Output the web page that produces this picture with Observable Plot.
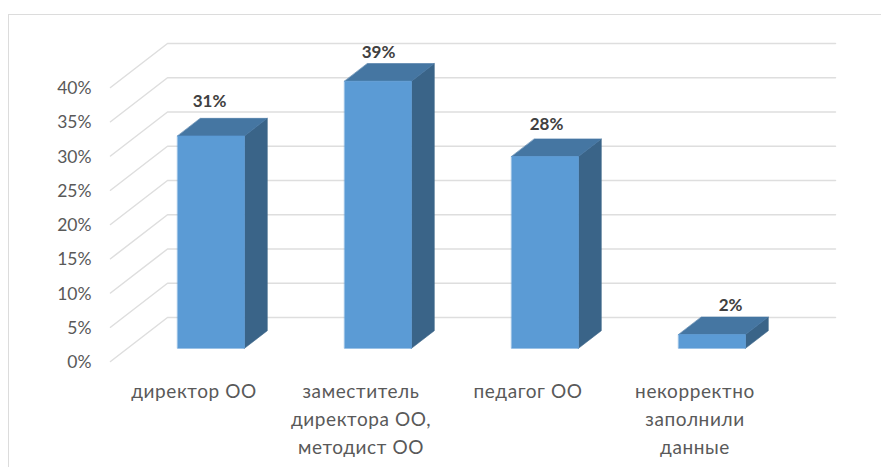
<!DOCTYPE html>
<html lang="ru">
<head>
<meta charset="utf-8">
<script src="https://cdn.jsdelivr.net/npm/d3@7"></script>
<script src="https://cdn.jsdelivr.net/npm/@observablehq/plot@0.6"></script>
<style>
html,body{margin:0;padding:0;background:#fff;overflow:hidden}
#chart{position:relative;width:881px;height:467px}
#chart svg{display:block;position:absolute;left:0;top:0;background:transparent}
#chart svg g[aria-label="x-axis tick label"]{letter-spacing:0.6px}
#edge{position:absolute;left:8px;top:14px;right:0;bottom:0;border-top:1.5px solid #dcdcdc;border-left:1.5px solid #dcdcdc}
</style>
</head>
<body>
<div id="chart"><div id="edge"></div></div>
<script>
const categories = ["директор ОО", "заместитель\nдиректора ОО,\nметодист ОО", "педагог ОО", "некорректно\nзаполнили\nданные"];
const values = [31, 39, 28, 2];
const valueTicks = [0, 5, 10, 15, 20, 25, 30, 35, 40];

const FONT = "Lato, 'Open Sans', sans-serif";
const depthX = 57 / 167;
const depthY = 44 / 6.85;
const at = (pos, value, depth) => ({x: pos + depth * depthX, y: value + depth * depthY});

const barHalf = 0.2, barNear = 0.3, barFar = 0.7;
const polygon = (id, corners) => corners.map(([p, v, d]) => ({id, ...at(p, v, d)}));

const frontFaces = [], sideFaces = [], topFaces = [];
values.forEach((v, i) => {
  const l = i + 0.5 - barHalf, r = i + 0.5 + barHalf;
  frontFaces.push(...polygon(i, [[l,0,barNear],[r,0,barNear],[r,v,barNear],[l,v,barNear]]));
  sideFaces.push(...polygon(i, [[r,0,barNear],[r,0,barFar],[r,v,barFar],[r,v,barNear]]));
  topFaces.push(...polygon(i, [[l,v,barNear],[r,v,barNear],[r,v,barFar],[l,v,barFar]]));
});
const gridLines = valueTicks.flatMap(t => [at(0,t,0), at(0,t,1), at(4,t,1)].map(q => ({...q, t})));

const face = (data, fill) => Plot.line(data, {x:"x", y:"y", z:"id", fill, stroke:fill, strokeWidth:0.6, curve:"linear-closed"});
const nudges = [[-16,-2],[-14,4],[-13,1],[4,4]];

const plot = Plot.plot({
  width: 881, height: 467,
  marginLeft: 110, marginRight: 103, marginTop: 20, marginBottom: 106,
  style: {fontFamily: FONT, background: "transparent"},
  x: {domain: [0, 4], range: [110, 778]},
  y: {domain: [0, 40], range: [361, 87]},
  marks: [
    Plot.line(gridLines, {x:"x", y:"y", z:"t", stroke:"#dedede", strokeWidth:1.5}),
    face(sideFaces, "#3a6488"),
    face(topFaces, "#4576a2"),
    face(frontFaces, "#5b9bd5"),
    Plot.axisY(valueTicks, {tickSize:0, tickPadding:19, dy:1, tickFormat:d => d + "%", fontSize:17.5, fill:"#595959", label:null}),
    Plot.axisX(categories.map((_, i) => i + 0.5), {
      tickSize:0, tickPadding:17, lineHeight:1.47, fontSize:19, fill:"#595959", label:null,
      tickFormat:(d) => categories[Math.floor(d)], textOverflow:null
    }),
    ...values.map((v, i) => Plot.text([v], {
      x:() => i + 0.5 + barFar * depthX - 0.05, y:d => d + barFar * depthY,
      text:d => d + "%", dx:nudges[i][0], dy:nudges[i][1] - 15,
      fontSize:17, fontWeight:"bold", fill:"#404040"
    }))
  ]
});
document.getElementById("chart").appendChild(plot);
</script>
</body>
</html>
